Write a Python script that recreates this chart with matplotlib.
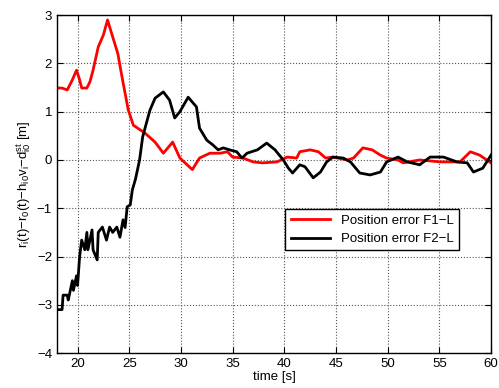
import matplotlib.pyplot as plt

plt.rcParams['font.family'] = ['Liberation Sans', 'DejaVu Sans']
plt.rcParams['mathtext.fontset'] = 'custom'
plt.rcParams['mathtext.rm'] = 'Liberation Sans'
plt.rcParams['mathtext.it'] = 'Liberation Sans'

# position error F1-L (red)
t_f1 = [18.0, 18.5, 19.0, 19.5, 19.9, 20.2, 20.4, 20.9, 21.2, 21.5, 22.0, 22.5, 22.9,
        23.4, 23.9, 24.3, 24.9, 25.4, 26.5, 27.5, 28.3, 29.2, 29.9, 31.1, 31.8, 32.8,
        33.8, 34.5, 35.0, 36.0, 37.0, 37.9, 39.3, 40.3, 41.2, 41.5, 42.5, 43.3, 44.0,
        44.7, 46.1, 46.7, 47.6, 48.5, 49.3, 49.9, 51.0, 51.5, 53.1, 55.1, 57.0, 58.0,
        58.9, 60.0]
e_f1 = [1.49, 1.49, 1.45, 1.66, 1.86, 1.66, 1.49, 1.49, 1.62, 1.86, 2.34, 2.59, 2.9,
        2.55, 2.2, 1.72, 1.04, 0.72, 0.56, 0.37, 0.14, 0.37, 0.04, -0.2, 0.04, 0.14,
        0.14, 0.17, 0.06, 0.04, -0.04, -0.06, -0.04, 0.06, 0.04, 0.17, 0.21, 0.17, 0.04,
        0.06, 0.0, 0.04, 0.25, 0.21, 0.1, 0.04, 0.0, -0.06, 0.0, -0.04, -0.04, 0.17,
        0.1, -0.06]

# position error F2-L (black)
t_f2 = [18.0, 18.5, 18.6, 19.0, 19.1, 19.5, 19.6, 19.9, 20.0, 20.2, 20.4, 20.7, 20.9,
        21.0, 21.4, 21.5, 21.9, 22.0, 22.4, 22.8, 23.1, 23.4, 23.8, 24.1, 24.4, 24.6,
        24.8, 25.1, 25.3, 25.6, 26.0, 26.3, 27.0, 27.5, 28.3, 28.9, 29.4, 29.9, 30.7,
        31.5, 31.8, 32.5, 33.1, 33.6, 34.1, 34.7, 35.4, 35.9, 36.4, 37.4, 38.3, 39.1,
        39.9, 40.4, 40.8, 41.5, 42.0, 42.8, 43.5, 44.1, 44.7, 45.7, 46.4, 47.3, 48.3,
        49.3, 49.9, 51.0, 51.9, 53.1, 54.1, 55.4, 56.7, 57.7, 58.3, 59.2, 60.0]
e_f2 = [-3.1, -3.1, -2.8, -2.8, -2.9, -2.5, -2.7, -2.4, -2.6, -2.0, -1.66, -1.86, -1.5,
        -1.86, -1.45, -1.86, -2.07, -1.5, -1.39, -1.66, -1.39, -1.5, -1.39, -1.6, -1.24, -1.4,
        -0.97, -0.93, -0.62, -0.4, 0.0, 0.48, 1.03, 1.28, 1.41, 1.24, 0.87, 1.0, 1.3,
        1.1, 0.66, 0.41, 0.31, 0.21, 0.25, 0.21, 0.17, 0.04, 0.14, 0.21, 0.35, 0.21,
        0.0, -0.17, -0.27, -0.1, -0.14, -0.37, -0.25, -0.04, 0.06, 0.04, -0.04, -0.27, -0.31,
        -0.25, -0.04, 0.06, -0.04, -0.1, 0.06, 0.06, -0.04, -0.06, -0.25, -0.17, 0.1]

fig = plt.figure(figsize=(4.99, 3.88), dpi=100)
ax = fig.add_axes([0.114, 0.090, 0.870, 0.871])

ax.plot(t_f1, e_f1, color='#ff0000', lw=2, label='Position error F1\u2212L')
ax.plot(t_f2, e_f2, color='black', lw=2, label='Position error F2\u2212L')

ax.set_xlim(18, 60)
ax.set_ylim(-4, 3)
ax.set_xticks(range(20, 61, 5))
ax.set_yticks(range(-4, 4))
ax.set_yticklabels(['\u22124', '\u22123', '\u22122', '\u22121', '0', '1', '2', '3'])
ax.tick_params(direction='in', top=True, right=True, labelsize=9.5, length=4)
ax.grid(True, linestyle=':', color='#555555', lw=0.8)
for s in ax.spines.values():
    s.set_linewidth(1.0)

ax.set_xlabel('time [s]', fontsize=9.5, labelpad=1)
ax.set_ylabel(r'r$_i$(t)$-$r$_0$(t)$-$h$_{i0}$v$_i$$-$d$^{st}_{i0}$ [m]', fontsize=9.5, labelpad=3)

leg = ax.legend(loc='upper right', bbox_to_anchor=(0.926, 0.425), fontsize=9.5,
                fancybox=False, framealpha=1, edgecolor='black', handlelength=3,
                borderpad=0.4, labelspacing=0.45, borderaxespad=0)
leg.get_frame().set_linewidth(1.0)

fig.savefig('out.png', dpi=100)
